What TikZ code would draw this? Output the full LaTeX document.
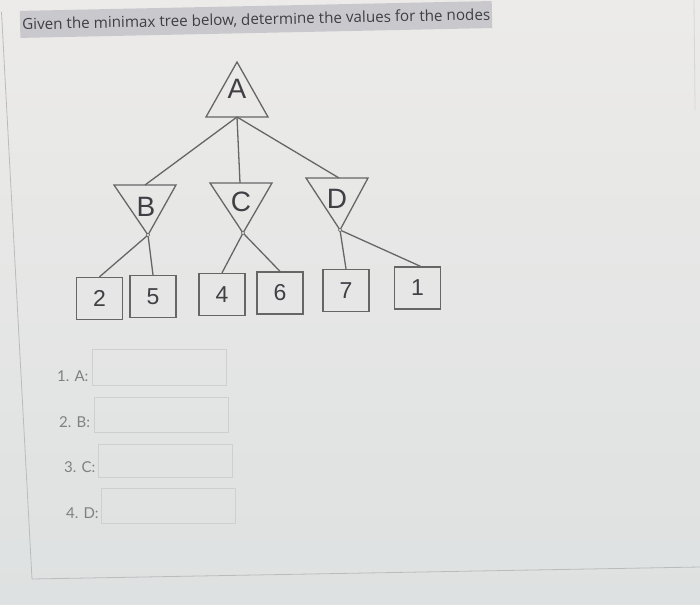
\documentclass[tikz,border=0pt]{standalone}
\usepackage{fontspec}
\setmainfont{Liberation Sans}
\newfontfamily\titlefont{Open Sans}
\newfontfamily\labfont{Lato}
\definecolor{bgtop}{HTML}{ECEBE9}
\definecolor{bgbot}{HTML}{DEE1E1}
\definecolor{hl}{HTML}{C9C8CC}
\definecolor{ink}{HTML}{3F3F44}
\definecolor{treeline}{HTML}{666666}
\definecolor{soft}{HTML}{7E8082}
\definecolor{boxline}{HTML}{CDD0D0}
\definecolor{panel}{HTML}{B9BCBD}
\tikzset{
  tri/.style={draw=treeline, line width=1.3pt, line join=miter},
  edge/.style={draw=treeline, line width=1.3pt},
  leaf/.style={draw=treeline, line width=1.3pt, minimum width=46pt, minimum height=42pt, inner sep=0pt, font=\fontsize{23}{23}\selectfont, text=ink},
  letter/.style={inner sep=0pt, font=\fontsize{28}{28}\selectfont, text=ink},
  knob/.style={circle, draw=treeline, line width=0.6pt, fill=bgtop, minimum size=3.5pt, inner sep=0pt},
  anslab/.style={anchor=west, inner sep=0pt, font=\labfont\fontsize{15}{15}\selectfont, text=soft},
  ansbox/.style={draw=boxline, line width=0.9pt}
}
\begin{document}
\begin{tikzpicture}[x=1pt,y=-1pt]
\useasboundingbox (0,0) rectangle (700,604);
\shade[top color=bgtop, bottom color=bgbot] (0,0) rectangle (700,604);
% corner blob
\fill[orange!85!red] (0,0) -- (9,0) arc[start angle=0, end angle=-90, x radius=9pt, y radius=-5pt] -- cycle;
% panel border
\draw[panel, line width=0.8pt] (1.5,12) -- (32,579) -- (700,567);
\draw[panel!60, line width=0.8pt] (694,0) -- (695,110);
% title
\begin{scope}[rotate around={1.2:(255,18)}, transform shape]
\fill[hl] (20,6) rectangle (492,33);
\node[anchor=west, inner sep=0pt, text=ink, font=\titlefont\fontsize{15.2}{15.2}\selectfont] (title) at (22,20) {Given the minimax tree below, determine the values for the nodes};
\end{scope}
% tree: max node A
\coordinate (Atop) at (237,62);
\coordinate (Abot) at (237,117);
\draw[tri] (Atop) -- (268,117) -- (206,117) -- cycle;
\node[letter] (A) at (237,89) {A};
% min nodes
\coordinate (Btop) at (145,185);
\coordinate (Bbot) at (148,235);
\draw[tri] (114,185) -- (176,185) -- (Bbot) -- cycle;
\node[letter] (B) at (146,207) {B};
\coordinate (Ctop) at (240,183);
\coordinate (Cbot) at (243,233);
\draw[tri] (210,183) -- (272,183) -- (Cbot) -- cycle;
\node[letter] (C) at (241,202) {C};
\coordinate (Dtop) at (339,178);
\coordinate (Dbot) at (340,230);
\draw[tri] (306,178) -- (368,178) -- (Dbot) -- cycle;
\node[letter] (D) at (337,199) {D};
% leaves
\node[leaf] (l2) at (99.5,298.5) {2};
\node[leaf] (l5) at (153,296.5) {5};
\node[leaf] (l4) at (222,294.5) {4};
\node[leaf] (l6) at (280,293) {6};
\node[leaf] (l7) at (346,290.5) {7};
\node[leaf] (l1) at (417.5,288) {1};
% edges
\draw[edge] (Abot) -- (Btop);
\draw[edge] (Abot) -- (Ctop);
\draw[edge] (Abot) -- (Dtop);
\draw[edge] (Bbot) -- (l2.north);
\draw[edge] (Bbot) -- (l5.north);
\draw[edge] (Cbot) -- (l4.north);
\draw[edge] (Cbot) -- (l6.north);
\draw[edge] (Dbot) -- (l7.north);
\draw[edge] (Dbot) -- ([xshift=3pt]l1.north);
\node[knob] (kB) at (Bbot) {};
\node[knob] (kC) at (Cbot) {};
\node[knob] (kD) at (Dbot) {};
% answers
\node[anslab] (qA) at (57,376) {1. A:};
\node[anslab] (qB) at (59,422) {2. B:};
\node[anslab] (qC) at (64,467) {3. C:};
\node[anslab] (qD) at (66,513) {4. D:};
\draw[ansbox] (92,349) rectangle (226,385);
\draw[ansbox] (94,397) rectangle (228,432);
\draw[ansbox] (98,444) rectangle (232,477);
\draw[ansbox] (101,488) rectangle (235,523);
\end{tikzpicture}
\end{document}
